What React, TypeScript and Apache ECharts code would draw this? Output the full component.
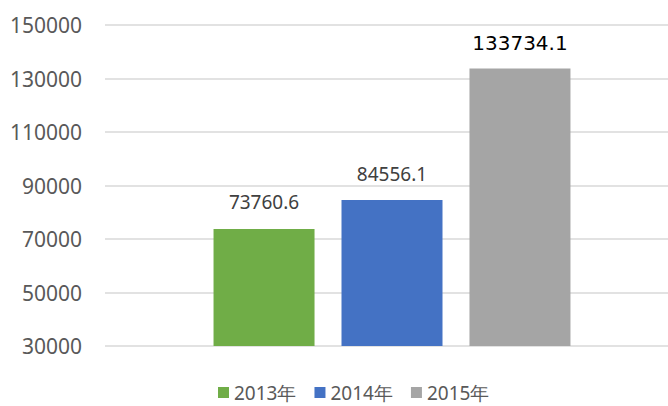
import React, { useEffect, useRef } from "react";
import * as echarts from "echarts";

const years = ["2013年", "2014年", "2015年"];
const values = [73760.6, 84556.1, 133734.1];
const colors = ["#70AD47", "#4472C4", "#A5A5A5"];
const yMin = 30000;
const yMax = 150000;
const yInterval = 20000;

export default function App() {
  const ref = useRef<HTMLDivElement>(null);
  useEffect(() => {
    if (!ref.current) return;
    const chart = echarts.init(ref.current, null, { renderer: "svg" });
    const series = years.map((y, i) => ({
      name: y,
      type: "bar",
      data: [values[i]],
      barWidth: 101,
      barGap: "26.7%",
      itemStyle: { color: colors[i] },
      label: {
        show: true,
        position: "top",
        distance: i === 2 ? 16 : 17,
        fontFamily: i === 2 ? "DejaVu Sans" : "Noto Sans",
        fontSize: i === 2 ? 20 : 19,
        color: i === 2 ? "#000000" : "#404040",
      },
    }));
    chart.setOption({
      animation: false,
      textStyle: { fontFamily: "Noto Sans" },
      grid: { left: 105, right: 0, top: 25, bottom: 60 },
      legend: {
        data: years,
        left: 218,
        top: 383,
        padding: 0,
        itemWidth: 11,
        itemHeight: 11,
        itemGap: 18,
        icon: "rect",
        textStyle: { fontSize: 19, color: "#595959", fontFamily: "Noto Sans" },
      },
      xAxis: {
        type: "category",
        data: [""],
        axisLine: { show: false },
        axisTick: { show: false },
        axisLabel: { show: false },
      },
      yAxis: {
        type: "value",
        min: yMin,
        max: yMax,
        interval: yInterval,
        axisLine: { show: false },
        axisTick: { show: false },
        axisLabel: {
          fontSize: 21,
          color: "#595959",
          margin: 23,
          fontFamily: "Noto Sans",
          formatter: (v: number) => String(v),
        },
        splitLine: { lineStyle: { color: "#D9D9D9", width: 1.5 } },
      },
      series,
    });
    return () => chart.dispose();
  }, []);
  return (
    <div
      style={{ position: "fixed", left: 0, top: 0, width: 668, height: 406, overflow: "hidden", background: "#fff" }}
    >
      <div ref={ref} style={{ width: 679, height: 406 }} />
    </div>
  );
}
